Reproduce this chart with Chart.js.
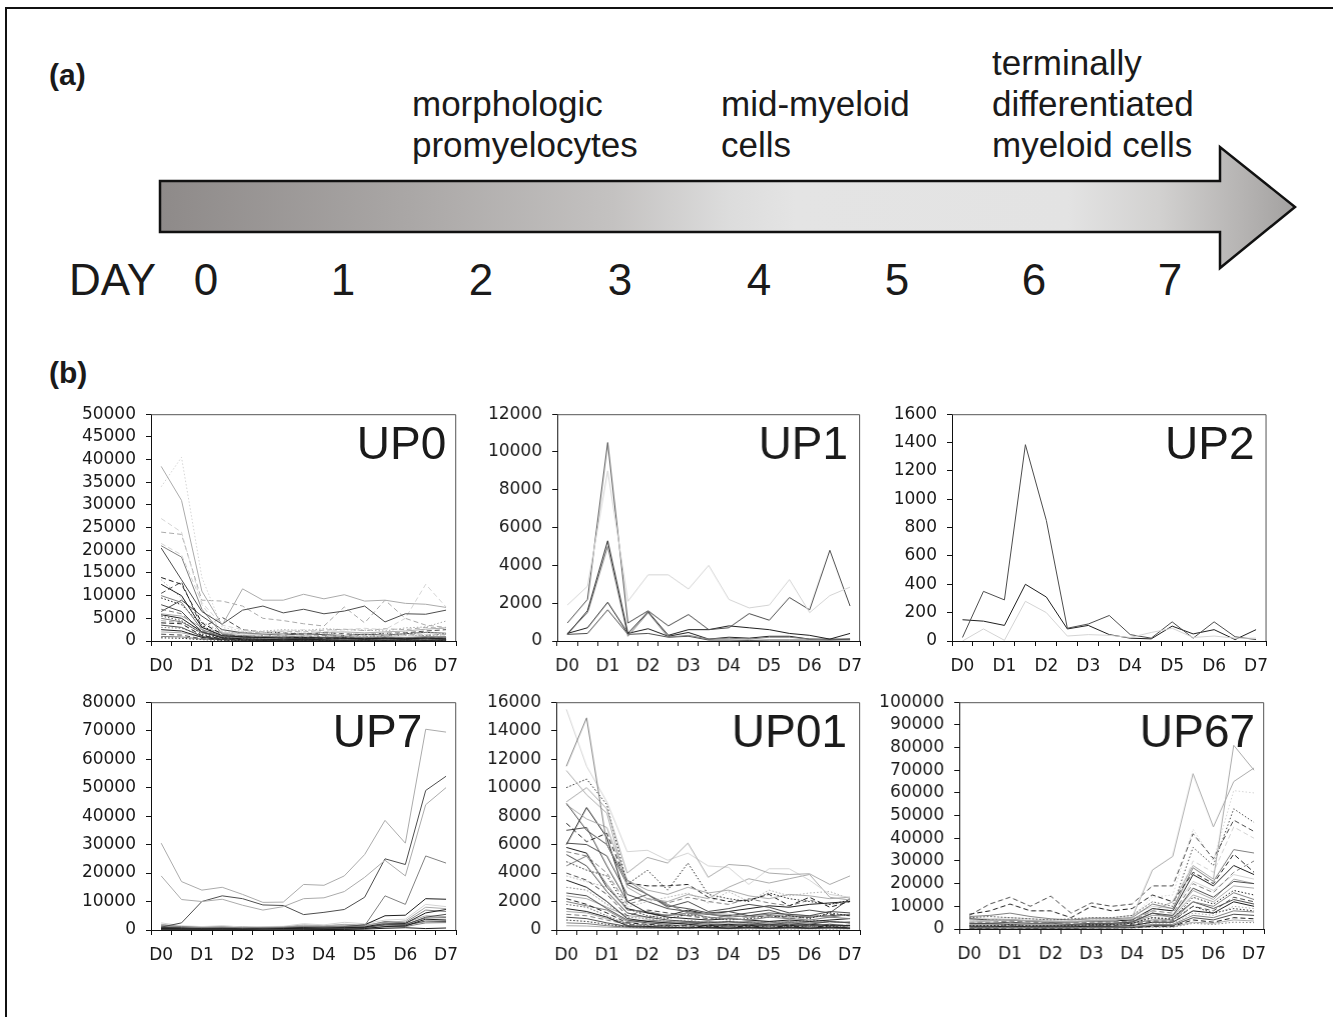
<!DOCTYPE html>
<html>
<head>
<meta charset="utf-8">
<title>Myeloid differentiation time course</title>
<script src="https://cdn.jsdelivr.net/npm/chart.js@4.4.1/dist/chart.umd.min.js"></script>
<style>
  html, body { margin: 0; padding: 0; background: #fff; }
  body { width: 1333px; height: 1017px; position: relative; overflow: hidden;
         font-family: "Liberation Sans", Arial, Helvetica, sans-serif; color: #1a1a1a; }
  .frame { position: absolute; left: 5px; top: 7px; width: 1400px; height: 1100px;
           border-left: 2px solid #111; border-top: 2px solid #111; }
  .lbl { position: absolute; white-space: nowrap; }
  .panel { font-weight: bold; font-size: 30px; line-height: 30px; }
  .stage { font-size: 35px; line-height: 41px; }
  .day { font-size: 44px; line-height: 44px; }
  .num { width: 60px; text-align: center; }
  canvas { position: absolute; }
  svg { position: absolute; left: 0; top: 0; }
</style>
</head>
<body>
<div class="frame"></div>

<!-- (a) timeline -->
<svg width="1333" height="320">
  <defs>
    <linearGradient id="shade" gradientUnits="userSpaceOnUse" x1="160" y1="0" x2="1295" y2="0">
      <stop offset="0" stop-color="#8e8a89"/>
      <stop offset="0.22" stop-color="#aaa7a6"/>
      <stop offset="0.40" stop-color="#c4c2c1"/>
      <stop offset="0.50" stop-color="#dcdcdc"/>
      <stop offset="0.56" stop-color="#e4e4e4"/>
      <stop offset="0.80" stop-color="#e3e3e3"/>
      <stop offset="0.88" stop-color="#d2d1d0"/>
      <stop offset="0.95" stop-color="#b7b5b4"/>
      <stop offset="1" stop-color="#a3a1a0"/>
    </linearGradient>
  </defs>
  <polygon points="160,181 1220,181 1220,147 1295,207 1220,268 1220,232 160,232"
           fill="url(#shade)" stroke="#111" stroke-width="2.5" stroke-linejoin="miter"/>
</svg>

<div class="lbl panel" style="left:49px; top:60px;">(a)</div>
<div class="lbl stage" style="left:412px; top:83px;">morphologic<br>promyelocytes</div>
<div class="lbl stage" style="left:721px; top:83px;">mid-myeloid<br>cells</div>
<div class="lbl stage" style="left:992px; top:42px;">terminally<br>differentiated<br>myeloid cells</div>

<div class="lbl day" style="left:69px; top:258px;">DAY</div>
<div id="dayRow"></div>

<div class="lbl panel" style="left:49px; top:358px;">(b)</div>

<canvas id="up0"></canvas>
<canvas id="up1"></canvas>
<canvas id="up2"></canvas>
<canvas id="up7"></canvas>
<canvas id="up01"></canvas>
<canvas id="up67"></canvas>

<script>
'use strict';

// day numbers under the arrow
let dayNumbers = ['0', '1', '2', '3', '4', '5', '6', '7'];
let dayCentres = [206, 343, 481, 620, 759, 897, 1034, 1170];

// x categories: sampled every half day, only whole days are labelled
let days = ['D0', '', 'D1', '', 'D2', '', 'D3', '', 'D4', '', 'D5', '', 'D6', '', 'D7'];

// ---- UP0 ----
let up0Values = [
    [38500, 31000, 11000, 3500, 11500, 9000, 9000, 10300, 9300, 10200, 8800, 9000, 8300, 8100, 7400],
    [20500, 13500, 6500, 3700, 6800, 7700, 6200, 7000, 6000, 6600, 7700, 4200, 6000, 5900, 6800],
    [34000, 40500, 14000, 3000, 2200, 2000, 1800, 2000, 1600, 1800, 1500, 1700, 1500, 1800, 1600],
    [27000, 24000, 8000, 2000, 1500, 1200, 1300, 1100, 1000, 1200, 1100, 1300, 1200, 1400, 1300],
    [24000, 23500, 9000, 8800, 7700, 5000, 4500, 3800, 3300, 7500, 4000, 9000, 5000, 3500, 3000],
    [21500, 19000, 8500, 3500, 2500, 2000, 2200, 2500, 2000, 2500, 2800, 2500, 5000, 12500, 7500],
    [21000, 18500, 7000, 1500, 1200, 1000, 900, 1100, 900, 1000, 800, 900, 800, 900, 800],
    [14000, 12500, 4000, 1500, 1000, 800, 700, 800, 600, 700, 600, 700, 600, 700, 700],
    [12500, 10000, 3000, 1200, 900, 800, 700, 600, 700, 600, 500, 600, 500, 600, 500],
    [10500, 13000, 3000, 5200, 2500, 2000, 1800, 1500, 1800, 1600, 1400, 1700, 1800, 2200, 2500],
    [10000, 8500, 2500, 1000, 700, 600, 500, 600, 500, 400, 500, 400, 500, 400, 500],
    [9500, 8000, 3500, 800, 600, 500, 400, 500, 400, 500, 300, 400, 300, 400, 300],
    [8000, 6500, 2000, 1000, 800, 700, 600, 800, 700, 600, 700, 600, 700, 800, 900],
    [7000, 6000, 2200, 1200, 1000, 1200, 1100, 1000, 1200, 1300, 1100, 1200, 1400, 1300, 1500],
    [6000, 5500, 3000, 1800, 1600, 1500, 1700, 1600, 1900, 2000, 1800, 2000, 2200, 2600, 2900],
    [5800, 5000, 2000, 700, 500, 400, 300, 400, 300, 200, 300, 200, 300, 200, 300],
    [5500, 4500, 1500, 600, 400, 300, 400, 300, 200, 300, 200, 300, 200, 300, 200],
    [5000, 4200, 1800, 900, 700, 800, 600, 700, 800, 700, 600, 800, 700, 900, 800],
    [4500, 4000, 2500, 1500, 2000, 1800, 2200, 2000, 2400, 2600, 2300, 2700, 2500, 3000, 2800],
    [4000, 3800, 1200, 500, 300, 200, 300, 200, 200, 300, 200, 200, 300, 200, 200],
    [3500, 3000, 1000, 400, 300, 250, 200, 250, 200, 150, 200, 150, 200, 150, 200],
    [3000, 2800, 1300, 800, 900, 1000, 900, 1100, 1000, 1200, 1000, 1100, 1300, 1200, 1400],
    [2500, 2200, 800, 300, 200, 150, 100, 150, 100, 150, 100, 150, 100, 100, 150],
    [2000, 1800, 900, 500, 600, 500, 700, 600, 500, 600, 700, 600, 500, 600, 700],
    [1500, 1300, 500, 200, 150, 100, 150, 100, 150, 100, 100, 150, 100, 150, 100],
    [1000, 900, 400, 300, 250, 300, 200, 300, 250, 200, 300, 250, 300, 200, 300],
    [700, 600, 300, 150, 100, 120, 100, 80, 100, 90, 80, 100, 90, 100, 80],
    [6500, 9000, 5500, 2500, 1800, 1500, 1300, 1600, 1400, 1200, 1500, 1300, 1600, 1900, 1700],
    [13500, 9500, 4200, 2000, 1800, 2200, 2500, 2300, 2700, 2500, 2400, 2200, 2900, 3100, 4400]
];
let up0Styles = ['l', 'd', 'p.', 'p-', 'l-', 'p-', 'm', 'k-', 'k', 'd-', 'm', 'k.', 'd', 'm-', 'l',
    'k', 'd.', 'm', 'l-', 'k-', 'd', 'm.', 'k', 'l', 'd-', 'm', 'k.', 'd', 'l.'];

// ---- UP1 ----
let up1Values = [
    [1900, 2900, 9000, 2100, 3500, 3500, 2750, 4000, 2200, 1750, 1900, 3250, 1500, 2400, 2850],
    [950, 2200, 10500, 950, 1600, 800, 1400, 600, 700, 1450, 1100, 2300, 1650, 4800, 1850],
    [350, 1600, 5300, 400, 1550, 300, 600, 600, 800, 700, 600, 400, 300, 100, 400],
    [400, 1500, 5000, 250, 1500, 200, 300, 100, 150, 100, 200, 200, 100, 50, 50],
    [400, 700, 2050, 400, 650, 250, 450, 100, 200, 150, 250, 250, 100, 100, 100],
    [350, 400, 1650, 350, 400, 200, 250, 50, 50, 30, 50, 50, 50, 50, 100]
];
let up1Styles = ['p', 'd', 'k', 'm', 'k', 'd'];

// ---- UP2 ----
let up2Values = [
    [0, 85, 5, 280, 200, 35, 45, 40, 25, 60, 90, 25, 35, 20, 20],
    [25, 350, 290, 1385, 850, 90, 120, 180, 45, 20, 135, 20, 135, 30, 10],
    [150, 140, 110, 400, 310, 85, 110, 45, 20, 15, 105, 50, 80, 10, 80]
];
let up2Styles = ['p', 'd', 'k'];

// ---- UP7 ----
let up7Values = [
    [30500, 17000, 14000, 15000, 12500, 9700, 9800, 16000, 15700, 19000, 26500, 38500, 30500, 70500, 69500],
    [19000, 10700, 10000, 10800, 8700, 7000, 8200, 11000, 11300, 13500, 18500, 24500, 19000, 44000, 50000],
    [1000, 2500, 10000, 12000, 11000, 8800, 8600, 5400, 6200, 7200, 11500, 25000, 23000, 49000, 54000],
    [1500, 1200, 900, 1000, 800, 900, 1000, 1200, 1100, 1300, 1500, 12000, 9000, 26000, 23500],
    [800, 700, 600, 700, 600, 700, 800, 900, 1000, 1200, 1800, 5000, 5200, 11000, 10800],
    [2500, 1500, 1200, 1500, 1000, 1200, 1300, 2200, 1800, 2700, 2200, 3500, 3800, 9000, 8200],
    [2000, 1300, 800, 1000, 900, 800, 900, 1500, 1400, 1800, 1600, 2500, 3200, 8000, 7500],
    [500, 400, 300, 400, 300, 400, 500, 600, 700, 800, 1000, 2500, 2300, 6000, 7200],
    [1200, 800, 600, 700, 700, 600, 700, 1000, 900, 1200, 1300, 3000, 2700, 7000, 6500],
    [300, 300, 200, 300, 300, 200, 300, 400, 500, 600, 800, 2000, 1800, 4500, 5500],
    [1800, 1000, 1100, 1300, 1200, 1000, 1100, 1800, 1500, 2000, 1700, 2800, 2500, 5000, 4700],
    [900, 700, 600, 800, 600, 700, 800, 1100, 1000, 1300, 1200, 2200, 2000, 4200, 4400],
    [200, 200, 150, 200, 150, 200, 250, 300, 300, 400, 500, 1200, 1400, 3800, 3500],
    [1500, 1300, 1000, 1200, 900, 1000, 1100, 1600, 1400, 1700, 1500, 2000, 2200, 3500, 3900],
    [600, 500, 400, 500, 400, 500, 600, 700, 700, 900, 900, 1800, 1600, 3200, 3000],
    [1000, 800, 700, 900, 700, 800, 900, 1200, 1100, 1400, 1300, 1700, 1900, 2800, 3100],
    [100, 100, 80, 100, 80, 100, 120, 150, 150, 200, 300, 600, 800, 500, 700],
    [400, 300, 300, 400, 300, 300, 400, 500, 500, 600, 700, 1100, 1200, 2500, 2600]
];
let up7Styles = ['l', 'l', 'd', 'm', 'k', 'p', 'l', 'k', 'm', 'd', 'l', 'm', 'k', 'p', 'd', 'l', 'k', 'm'];

// ---- UP01 ----
let up01Values = [
    [11500, 14900, 6000, 3500, 2500, 1800, 1200, 900, 800, 700, 900, 800, 700, 900, 800],
    [9000, 10000, 8500, 4000, 5100, 4700, 6100, 3700, 4600, 4500, 4000, 3900, 3950, 3200, 3800],
    [15500, 11500, 9000, 5500, 5600, 4900, 5400, 4500, 4400, 3200, 4300, 4300, 3500, 2500, 2300],
    [11200, 9500, 8200, 3000, 2200, 2000, 2500, 2200, 3000, 3600, 3300, 3600, 3900, 2300, 2100],
    [10000, 10600, 8800, 3200, 4200, 2800, 4700, 2500, 2200, 2000, 2600, 2200, 2000, 1800, 2100],
    [8900, 7000, 6000, 3200, 2500, 1700, 1500, 1200, 1300, 1000, 1200, 1100, 1000, 1300, 1200],
    [8800, 7800, 7200, 3500, 2800, 2500, 3000, 2600, 2800, 2400, 2200, 2500, 2400, 2200, 2300],
    [7500, 6200, 6800, 3300, 3100, 3100, 3200, 2300, 2000, 2100, 2500, 1700, 2300, 1600, 2000],
    [7000, 7200, 4500, 2000, 2500, 1600, 2000, 1300, 1500, 1800, 1600, 1200, 1400, 1200, 2200],
    [6000, 8600, 6500, 2000, 1200, 900, 800, 700, 800, 700, 600, 700, 600, 700, 800],
    [5500, 5200, 4000, 1800, 2200, 1900, 2300, 2000, 1800, 2200, 1900, 1700, 2100, 1800, 2000],
    [5300, 4500, 2700, 1200, 900, 700, 600, 500, 600, 500, 400, 500, 400, 600, 500],
    [4800, 4200, 3800, 1500, 1000, 800, 1100, 900, 700, 800, 900, 1000, 800, 1200, 1000],
    [4500, 5200, 3200, 1400, 1300, 1000, 1200, 1100, 900, 1000, 1100, 900, 1000, 900, 1100],
    [4000, 3500, 2500, 1000, 1400, 1200, 1000, 800, 1000, 900, 1000, 800, 900, 1100, 1000],
    [3800, 3400, 3000, 1600, 2000, 2300, 2600, 1900, 2700, 2000, 2800, 2400, 2600, 2700, 2200],
    [3500, 3000, 2000, 800, 600, 500, 400, 300, 400, 300, 400, 300, 400, 300, 300],
    [3000, 2800, 1800, 900, 800, 600, 700, 500, 600, 500, 600, 500, 700, 600, 500],
    [2600, 2400, 1500, 700, 500, 400, 500, 400, 300, 400, 300, 400, 300, 400, 300],
    [2400, 2200, 1600, 1000, 900, 1100, 1000, 1200, 1100, 900, 1000, 1100, 1000, 900, 1100],
    [2200, 1800, 1200, 500, 400, 300, 300, 200, 300, 200, 300, 200, 300, 200, 200],
    [2000, 1700, 1400, 600, 700, 600, 500, 600, 500, 600, 500, 600, 500, 600, 500],
    [1800, 1600, 1000, 400, 300, 250, 200, 250, 200, 250, 200, 250, 200, 250, 200],
    [1500, 1300, 900, 300, 250, 200, 150, 200, 150, 200, 150, 200, 150, 200, 150],
    [1300, 1200, 800, 500, 600, 500, 600, 500, 400, 500, 600, 500, 600, 500, 600],
    [1100, 1000, 700, 400, 350, 300, 350, 300, 250, 300, 250, 300, 250, 300, 350],
    [900, 800, 500, 250, 200, 150, 200, 150, 100, 150, 100, 150, 100, 150, 100],
    [300, 280, 200, 150, 120, 100, 120, 100, 80, 100, 80, 100, 80, 100, 80],
    [700, 600, 400, 200, 150, 120, 100, 120, 100, 80, 100, 80, 100, 80, 100],
    [500, 450, 300, 180, 150, 120, 150, 120, 100, 120, 100, 120, 100, 120, 100],
    [6100, 6000, 5200, 2500, 2000, 1500, 1300, 1100, 1000, 1200, 1400, 1000, 900, 1000, 1100],
    [5800, 5400, 3000, 1500, 1200, 1000, 1400, 1100, 1300, 1500, 1700, 1600, 1800, 1900, 2000]
];
let up01Styles = ['m', 'l', 'p', 'l', 'k.', 'd', 'l', 'k-', 'd', 'k', 'm-', 'd', 'k.', 'm', 'd-', 'l.',
    'k', 'm.', 'd', 'l', 'k-', 'm', 'd.', 'k', 'l', 'm-', 'd', 'l', 'k.', 'm', 'd', 'k'];

// ---- UP67 ----
let up67Values = [
    [3000, 3500, 4000, 3800, 3500, 3300, 3800, 3500, 5000, 26000, 32000, 68500, 45000, 65000, 71000],
    [4000, 3800, 4200, 3500, 3200, 3000, 3500, 4000, 4500, 8000, 12000, 28000, 22000, 81000, 70000],
    [6000, 11000, 14000, 10000, 14500, 7000, 11500, 10000, 11000, 19000, 19000, 42000, 31000, 48000, 43000],
    [6500, 8000, 11000, 8000, 8000, 5000, 10000, 8000, 9000, 15000, 12000, 25000, 20000, 33000, 25000],
    [5000, 5500, 5000, 4500, 4000, 4500, 5000, 5000, 6000, 12000, 10000, 36000, 28000, 53000, 47000],
    [5500, 6000, 7000, 5500, 4500, 4000, 4500, 4500, 5000, 11000, 9000, 27000, 21000, 35000, 33500],
    [3500, 4000, 4500, 4000, 4000, 3500, 4000, 4500, 5500, 14000, 15000, 44000, 30000, 61000, 60000],
    [4500, 4000, 4000, 3500, 3000, 3000, 3500, 3500, 4000, 9000, 8000, 24000, 19000, 28000, 24000],
    [3000, 3000, 3500, 3000, 2500, 2500, 3000, 3000, 3500, 8000, 7000, 20000, 16000, 25000, 30000],
    [2500, 2500, 3000, 2500, 2500, 2000, 2500, 2500, 3000, 7000, 6000, 18000, 14000, 21000, 20000],
    [2000, 2000, 2500, 2000, 2000, 2000, 2500, 2500, 3000, 6000, 5500, 15000, 12000, 19000, 18000],
    [1500, 1500, 2000, 1500, 1500, 1500, 2000, 2000, 2500, 5000, 4500, 14000, 11000, 17000, 15000],
    [1800, 2000, 2000, 1800, 1800, 1600, 2000, 2000, 2500, 4000, 4000, 12000, 10000, 16000, 13000],
    [1200, 1200, 1500, 1200, 1200, 1200, 1500, 1500, 2000, 3500, 3500, 10000, 8000, 14000, 12000],
    [5000, 4500, 5000, 4500, 4000, 4000, 5000, 5000, 6000, 10000, 9000, 21000, 17000, 24000, 22000],
    [1000, 1000, 1200, 1000, 1000, 1000, 1200, 1200, 1500, 3000, 3000, 8000, 7000, 12000, 10000],
    [800, 800, 1000, 800, 800, 800, 1000, 1000, 1200, 2500, 2500, 7000, 6000, 10000, 9000],
    [600, 700, 800, 700, 700, 600, 800, 800, 1000, 2000, 2000, 6000, 5000, 8000, 7500],
    [500, 500, 600, 500, 500, 500, 600, 600, 800, 1500, 1500, 5000, 4000, 6500, 6000],
    [400, 400, 500, 400, 400, 400, 500, 500, 600, 1200, 1200, 4000, 3000, 5000, 4500],
    [300, 300, 400, 300, 300, 300, 400, 400, 500, 1000, 1000, 3000, 2500, 4000, 3500],
    [200, 200, 300, 200, 200, 200, 300, 300, 400, 800, 800, 2500, 2000, 3000, 2800],
    [2200, 2500, 2300, 2000, 1800, 1900, 2200, 2400, 3200, 7000, 5000, 12000, 9000, 13000, 11000],
    [1000, 1500, 1800, 1200, 1300, 1200, 1500, 1800, 2500, 5000, 4000, 10000, 7000, 9000, 8000],
    [2500, 3000, 3500, 3200, 3000, 2800, 3200, 3500, 4000, 9000, 8000, 30000, 25000, 45000, 40000],
    [1500, 1800, 2000, 1800, 1600, 1500, 1800, 2000, 2500, 6000, 6000, 17000, 13000, 22000, 20000]
];
let up67Styles = ['l', 'l', 'd-', 'k-', 'd.', 'm', 'p.', 'k', 'm-', 'd', 'l', 'k.', 'm', 'd-', 'p', 'k',
    'l.', 'm', 'd', 'k-', 'l', 'm.', 'd', 'k.', 'p-', 'l'];

let shades = { k: '#1f1f1f', d: '#4d4d4d', m: '#808080', l: '#ababab', p: '#d4d4d4' };
let dashes = { '-': [5, 3], '.': [1.5, 2] };

let font = '"Liberation Sans", Arial, Helvetica, sans-serif';
let tickFont = '"DejaVu Sans", Verdana, sans-serif';

// day numbers
let dayRow = document.getElementById('dayRow');
for (let i = 0; i < dayNumbers.length; i++) {
    let el = document.createElement('div');
    el.className = 'lbl day num';
    el.style.left = (dayCentres[i] - 30) + 'px';
    el.style.top = '258px';
    el.textContent = dayNumbers[i];
    dayRow.appendChild(el);
}

// box round the plot area plus the cluster name in the top right corner
let framePlugin = {
    id: 'frameTitle',
    afterDatasetsDraw(chart, args, opts) {
        let ctx = chart.ctx;
        let a = chart.chartArea;
        ctx.save();
        ctx.strokeStyle = '#555';
        ctx.lineWidth = 1;
        ctx.beginPath();
        ctx.moveTo(a.left, a.top + 0.5);
        ctx.lineTo(a.right - 0.5, a.top + 0.5);
        ctx.lineTo(a.right - 0.5, a.bottom);
        ctx.stroke();
        ctx.font = '46px ' + font;
        ctx.fillStyle = '#1a1a1a';
        ctx.textAlign = 'right';
        ctx.textBaseline = 'alphabetic';
        ctx.fillText(opts.text, a.right - opts.dx, a.top + 45);
        ctx.restore();
    }
};

let Y_AXIS_W = 96;
let X_AXIS_H = 40;

function buildDatasets(values, styles) {
    let sets = [];
    for (let i = 0; i < values.length; i++) {
        let s = styles[i];
        sets.push({
            data: values[i],
            borderColor: shades[s[0]],
            borderDash: dashes[s[1]] || [],
            borderWidth: 1,
            pointRadius: 0,
            tension: 0,
            fill: false
        });
    }
    return sets;
}

function makeChart(canvas, w, h, name, values, styles, yMax, yStep, dx) {
    canvas.width = w;
    canvas.height = h;
    canvas.style.width = w + 'px';
    canvas.style.height = h + 'px';
    return new Chart(canvas.getContext('2d'), {
        type: 'line',
        data: { labels: days, datasets: buildDatasets(values, styles) },
        plugins: [framePlugin],
        options: {
            responsive: false,
            maintainAspectRatio: false,
            animation: false,
            devicePixelRatio: 1,
            layout: { padding: 0 },
            plugins: {
                legend: { display: false },
                tooltip: { enabled: false },
                frameTitle: { text: name, dx: dx }
            },
            scales: {
                x: {
                    offset: true,
                    grid: { offset: true, drawOnChartArea: false, drawTicks: true, tickLength: 5, color: '#111' },
                    border: { color: '#111', width: 1 },
                    ticks: { autoSkip: false, maxRotation: 0, padding: 10, color: '#1a1a1a', font: { family: tickFont, size: 17 } },
                    afterFit(scale) { scale.height = X_AXIS_H; }
                },
                y: {
                    min: 0,
                    max: yMax,
                    grid: { drawOnChartArea: false, drawTicks: true, tickLength: 5, color: '#111' },
                    border: { color: '#111', width: 1 },
                    ticks: {
                        stepSize: yStep,
                        autoSkip: false,
                        padding: 10,
                        color: '#1a1a1a',
                        font: { family: tickFont, size: 17 },
                        callback: (v) => String(v)
                    },
                    afterFit(scale) { scale.width = Y_AXIS_W; }
                }
            }
        }
    });
}

// box = [left, right, top, bottom] of the plot area on the page
function drawPanel(id, name, values, styles, yMax, yStep, box, dx) {
    let canvas = document.getElementById(id);
    let plotW = box[1] - box[0];
    let plotH = box[3] - box[2];
    let w = Y_AXIS_W + plotW + 20;
    let h = 20 + plotH + X_AXIS_H;

    // first pass: find how much room the end labels take, then size the canvas so the plot is exact
    let chart = makeChart(canvas, w, h, name, values, styles, yMax, yStep, dx);
    let a = chart.chartArea;
    w += plotW - (a.right - a.left);
    h += plotH - (a.bottom - a.top);
    chart.destroy();

    chart = makeChart(canvas, w, h, name, values, styles, yMax, yStep, dx);
    a = chart.chartArea;
    canvas.style.left = (box[0] - a.left) + 'px';
    canvas.style.top = (box[2] - a.top) + 'px';
}

drawPanel('up0', 'UP0', up0Values, up0Styles, 50000, 5000, [151, 457, 414, 641], 10);
drawPanel('up1', 'UP1', up1Values, up1Styles, 12000, 2000, [557, 860, 414, 641], 12);
drawPanel('up2', 'UP2', up2Values, up2Styles, 1600, 200, [952, 1267, 414, 641], 12);
drawPanel('up7', 'UP7', up7Values, up7Styles, 80000, 10000, [151, 457, 702, 930], 34);
drawPanel('up01', 'UP01', up01Values, up01Styles, 16000, 2000, [556, 860, 702, 930], 13);
drawPanel('up67', 'UP67', up67Values, up67Styles, 100000, 10000, [959, 1264, 702, 929], 9);
</script>
</body>
</html>
